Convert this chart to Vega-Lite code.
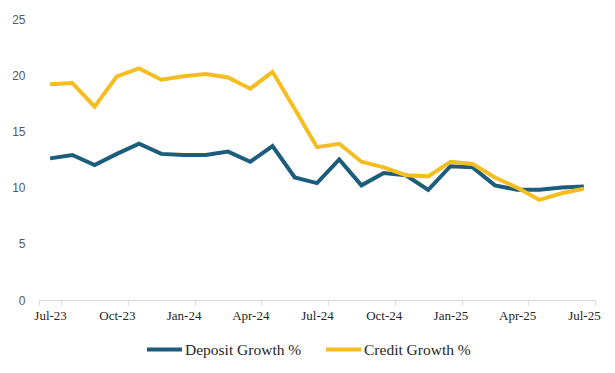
{
  "$schema": "https://vega.github.io/schema/vega-lite/v6.json",
  "autosize": {"type": "none"},
  "width": 556,
  "height": 281,
  "padding": {"left": 39, "top": 19, "right": 20, "bottom": 73},
  "background": "white",
  "config": {"view": {"stroke": null}},
  "data": {"values": [
    {"month": "Jul-23", "series": "Deposit Growth %", "value": 12.6},
    {"month": "Jul-23", "series": "Credit Growth %", "value": 19.2},
    {"month": "Aug-23", "series": "Deposit Growth %", "value": 12.9},
    {"month": "Aug-23", "series": "Credit Growth %", "value": 19.3},
    {"month": "Sep-23", "series": "Deposit Growth %", "value": 12.0},
    {"month": "Sep-23", "series": "Credit Growth %", "value": 17.2},
    {"month": "Oct-23", "series": "Deposit Growth %", "value": 13.0},
    {"month": "Oct-23", "series": "Credit Growth %", "value": 19.9},
    {"month": "Nov-23", "series": "Deposit Growth %", "value": 13.9},
    {"month": "Nov-23", "series": "Credit Growth %", "value": 20.6},
    {"month": "Dec-23", "series": "Deposit Growth %", "value": 13.0},
    {"month": "Dec-23", "series": "Credit Growth %", "value": 19.6},
    {"month": "Jan-24", "series": "Deposit Growth %", "value": 12.9},
    {"month": "Jan-24", "series": "Credit Growth %", "value": 19.9},
    {"month": "Feb-24", "series": "Deposit Growth %", "value": 12.9},
    {"month": "Feb-24", "series": "Credit Growth %", "value": 20.1},
    {"month": "Mar-24", "series": "Deposit Growth %", "value": 13.2},
    {"month": "Mar-24", "series": "Credit Growth %", "value": 19.8},
    {"month": "Apr-24", "series": "Deposit Growth %", "value": 12.3},
    {"month": "Apr-24", "series": "Credit Growth %", "value": 18.8},
    {"month": "May-24", "series": "Deposit Growth %", "value": 13.7},
    {"month": "May-24", "series": "Credit Growth %", "value": 20.3},
    {"month": "Jun-24", "series": "Deposit Growth %", "value": 10.9},
    {"month": "Jun-24", "series": "Credit Growth %", "value": 17.0},
    {"month": "Jul-24", "series": "Deposit Growth %", "value": 10.4},
    {"month": "Jul-24", "series": "Credit Growth %", "value": 13.6},
    {"month": "Aug-24", "series": "Deposit Growth %", "value": 12.5},
    {"month": "Aug-24", "series": "Credit Growth %", "value": 13.9},
    {"month": "Sep-24", "series": "Deposit Growth %", "value": 10.2},
    {"month": "Sep-24", "series": "Credit Growth %", "value": 12.3},
    {"month": "Oct-24", "series": "Deposit Growth %", "value": 11.3},
    {"month": "Oct-24", "series": "Credit Growth %", "value": 11.8},
    {"month": "Nov-24", "series": "Deposit Growth %", "value": 11.1},
    {"month": "Nov-24", "series": "Credit Growth %", "value": 11.1},
    {"month": "Dec-24", "series": "Deposit Growth %", "value": 9.8},
    {"month": "Dec-24", "series": "Credit Growth %", "value": 11.0},
    {"month": "Jan-25", "series": "Deposit Growth %", "value": 11.9},
    {"month": "Jan-25", "series": "Credit Growth %", "value": 12.3},
    {"month": "Feb-25", "series": "Deposit Growth %", "value": 11.8},
    {"month": "Feb-25", "series": "Credit Growth %", "value": 12.1},
    {"month": "Mar-25", "series": "Deposit Growth %", "value": 10.2},
    {"month": "Mar-25", "series": "Credit Growth %", "value": 10.9},
    {"month": "Apr-25", "series": "Deposit Growth %", "value": 9.8},
    {"month": "Apr-25", "series": "Credit Growth %", "value": 10.0},
    {"month": "May-25", "series": "Deposit Growth %", "value": 9.8},
    {"month": "May-25", "series": "Credit Growth %", "value": 8.9},
    {"month": "Jun-25", "series": "Deposit Growth %", "value": 10.0},
    {"month": "Jun-25", "series": "Credit Growth %", "value": 9.5},
    {"month": "Jul-25", "series": "Deposit Growth %", "value": 10.1},
    {"month": "Jul-25", "series": "Credit Growth %", "value": 9.9}
  ]},
  "mark": {"type": "line", "strokeWidth": 4, "strokeJoin": "miter"},
  "encoding": {
    "x": {
      "field": "month", "type": "ordinal", "sort": null,
      "scale": {"type": "band", "paddingInner": 0, "paddingOuter": 0},
      "axis": {
        "title": null,
        "values": ["Jul-23", "Oct-23", "Jan-24", "Apr-24", "Jul-24", "Oct-24", "Jan-25", "Apr-25", "Jul-25"],
        "tickBand": "extent",
        "labelAngle": 0,
        "labelFont": "Liberation Serif",
        "labelFontSize": 13,
        "labelColor": "#262626",
        "labelPadding": 4,
        "domainColor": "#d9d9d9",
        "tickColor": "#d9d9d9",
        "tickSize": 5,
        "grid": false
      }
    },
    "y": {
      "field": "value", "type": "quantitative",
      "scale": {"domain": [0, 25], "nice": false},
      "axis": {
        "title": null,
        "values": [0, 5, 10, 15, 20, 25],
        "domain": false,
        "ticks": false,
        "grid": false,
        "labelFont": "Liberation Sans",
        "labelFontSize": 12,
        "labelColor": "#595959",
        "labelPadding": 14
      }
    },
    "color": {
      "field": "series", "type": "nominal",
      "sort": ["Deposit Growth %", "Credit Growth %"],
      "scale": {"domain": ["Deposit Growth %", "Credit Growth %"], "range": ["#1C5D7C", "#F5BD1F"]},
      "legend": {
        "title": null,
        "orient": "none",
        "direction": "horizontal",
        "legendX": 106,
        "legendY": 311,
        "symbolType": "stroke",
        "symbolSize": 1225,
        "symbolStrokeWidth": 4,
        "labelFont": "Liberation Serif",
        "labelFontSize": 15.5,
        "labelColor": "#262626",
        "labelOffset": 1,
        "columnPadding": 16
      }
    }
  }
}
